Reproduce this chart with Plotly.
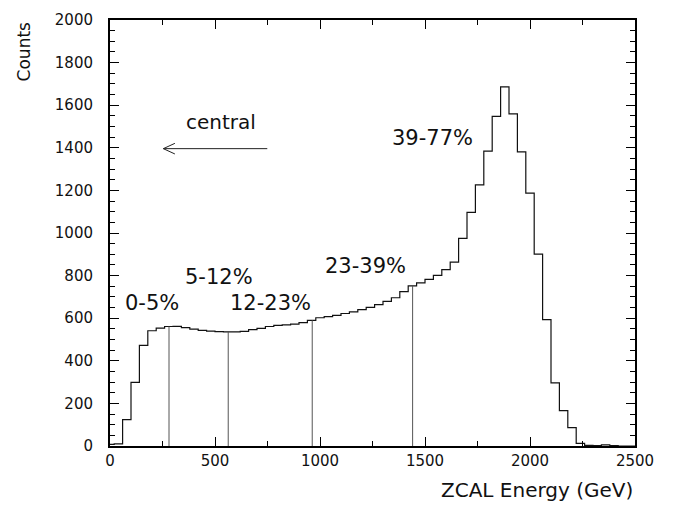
import plotly.graph_objects as go

# ---- data -------------------------------------------------------------
bin_start = -20          # GeV, lower edge of first bin
bin_width = 40           # GeV
counts = [8, 10, 124, 299, 472, 541, 553, 561, 562, 556, 549, 543, 539,
          537, 536, 536, 538, 546, 552, 561, 566, 569, 572, 579, 590, 602,
          607, 613, 622, 630, 640, 651, 664, 679, 696, 725, 752, 766, 782,
          801, 828, 863, 975, 1097, 1226, 1384, 1548, 1686, 1559, 1381,
          1187, 901, 593, 296, 166, 86, 12, 3, 2, 5, 2, 0, 0]

cut_positions = [281, 563, 963, 1441]          # centrality class boundaries (GeV)
class_labels = ["0-5%", "5-12%", "12-23%", "23-39%", "39-77%"]
label_x = [199, 520, 766, 1218, 1538]
label_y = [653, 775, 653, 824, 1428]

arrow_text = "central"
arrow_text_pos = (529, 1499)
arrow_from = (749, 1396)
arrow_to = (254, 1396)

x_title = "ZCAL Energy (GeV)"
y_title = "Counts"

# ---- build ------------------------------------------------------------
edges = [bin_start + i * bin_width for i in range(len(counts) + 1)]
step_x = edges
step_y = counts + [counts[-1]]

def hist_value(x):
    i = int((x - bin_start) // bin_width)
    return counts[i]

FONT = "DejaVu Sans"
fig = go.Figure()
fig.add_trace(go.Scatter(x=step_x, y=step_y, mode="lines",
                         line=dict(shape="hv", color="#111", width=1.2),
                         hoverinfo="skip", showlegend=False))

shapes = []
for c in cut_positions:
    shapes.append(dict(type="line", xref="x", yref="y", x0=c, x1=c, y0=0,
                       y1=hist_value(c), line=dict(color="#555", width=1)))
# arrow (open head)
ax0, ay0 = arrow_from
ax1, ay1 = arrow_to
shapes.append(dict(type="line", xref="x", yref="y", x0=ax0, y0=ay0, x1=ax1, y1=ay1,
                   line=dict(color="#222", width=1)))
head_dx, head_dy = 55, 25
for s in (1, -1):
    shapes.append(dict(type="line", xref="x", yref="y", x0=ax1, y0=ay1,
                       x1=ax1 + head_dx, y1=ay1 + s * head_dy,
                       line=dict(color="#222", width=1)))

annotations = []
for t, x, y in zip(class_labels, label_x, label_y):
    annotations.append(dict(text=t, x=x, y=y, xref="x", yref="y", showarrow=False,
                            font=dict(family=FONT, size=21, color="#111"),
                            xanchor="center", yanchor="middle", yshift=4))
annotations.append(dict(text=arrow_text, x=arrow_text_pos[0], y=arrow_text_pos[1],
                        xref="x", yref="y", showarrow=False, yshift=5,
                        font=dict(family=FONT, size=20, color="#111")))
annotations.append(dict(text=x_title, x=1.0, y=-0.103, xref="paper", yref="paper",
                        xanchor="right", yanchor="middle", showarrow=False,
                        font=dict(family=FONT, size=20, color="#111")))
annotations.append(dict(text=y_title, x=-0.164, y=1.0, xref="paper", yref="paper",
                        xanchor="center", yanchor="top", textangle=-90, showarrow=False,
                        font=dict(family=FONT, size=17, color="#111")))

axis_common = dict(showline=True, linecolor="black", linewidth=2, mirror="ticks",
                   ticks="inside", tickcolor="black", tickwidth=1, ticklen=9,
                   showgrid=False, zeroline=False,
                   tickfont=dict(family=FONT, size=15, color="#111"))

fig.update_layout(
    width=681, height=508,
    margin=dict(l=110, r=46, t=11, b=62),
    paper_bgcolor="white", plot_bgcolor="white",
    xaxis=dict(range=[0, 2500], dtick=500, tick0=0,
               minor=dict(ticks="inside", dtick=250, ticklen=5, tickcolor="black"),
               **axis_common),
    yaxis=dict(range=[0, 2000], dtick=200, tick0=0, ticklabelstandoff=12,
               minor=dict(ticks="inside", dtick=50, ticklen=5, tickcolor="black"),
               **axis_common),
    shapes=shapes,
    annotations=annotations,
)

fig.write_html("out.html")
